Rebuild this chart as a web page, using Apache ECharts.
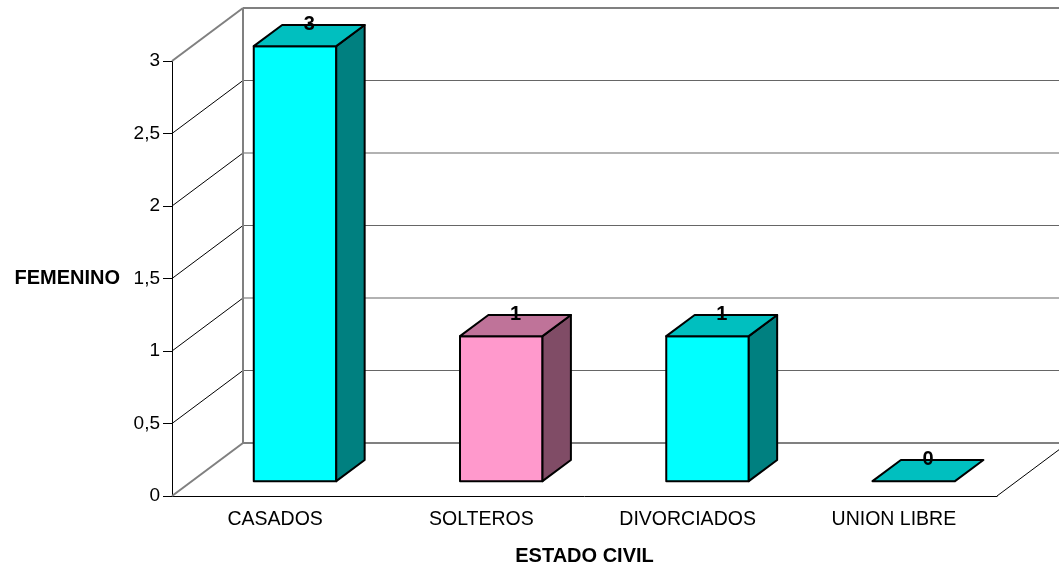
<!DOCTYPE html>
<html>
<head>
<meta charset="utf-8">
<script src="https://cdn.jsdelivr.net/npm/echarts@6/dist/echarts.min.js"></script>
<style>
  html, body { margin: 0; padding: 0; background: #fff; }
  #chart { width: 1059px; height: 571px; }
</style>
</head>
<body>
<div id="chart"></div>
<script>
const categories = ['CASADOS', 'SOLTEROS', 'DIVORCIADOS', 'UNION LIBRE'];
const femenino = [3, 1, 1, 0];
const yTicks = [0, 0.5, 1, 1.5, 2, 2.5, 3];
const yTickLabels = ['0', '0,5', '1', '1,5', '2', '2,5', '3'];

// 3d look: depth offset of the back wall, bar depth range, colours
const DX = 71, DY = -53;
const D1 = 0.28, D2 = 0.68;
const BAR_W = 0.4;
const FONT = "'Liberation Sans', Arial, sans-serif";
const faces = [
  { front: '#00FFFF', top: '#00BFBF', side: '#008080' },
  { front: '#FF99CC', top: '#BF7399', side: '#804C66' },
  { front: '#00FFFF', top: '#00BFBF', side: '#008080' },
  { front: '#00FFFF', top: '#00BFBF', side: '#008080' }
];

const chart = echarts.init(document.getElementById('chart'));

function shift(p, d) {
  return [p[0] + d * DX, p[1] + d * DY];
}

function renderWalls(params, api) {
  const cs = params.coordSys;
  const x0 = cs.x, x1 = cs.x + cs.width;
  const kids = [];
  const gray = { stroke: '#808080', lineWidth: 2 };
  yTicks.forEach((t, i) => {
    const y = api.coord([0, t])[1];
    const edge = i === 0 || i === yTicks.length - 1;
    kids.push({
      type: 'line',
      shape: { x1: x0, y1: y, x2: x0 + DX, y2: y + DY },
      style: edge ? gray : { stroke: '#000', lineWidth: 1 }
    });
    kids.push({
      type: 'line',
      shape: { x1: x0 + DX, y1: y + DY, x2: x1 + DX, y2: y + DY },
      style: edge ? gray : { stroke: '#666', lineWidth: 1.2 }
    });
  });
  const yb = api.coord([0, yTicks[0]])[1];
  const yt = api.coord([0, yTicks[yTicks.length - 1]])[1];
  kids.push({
    type: 'line',
    shape: { x1: x0 + DX, y1: yb + DY, x2: x0 + DX, y2: yt + DY },
    style: gray
  });
  kids.push({
    type: 'line',
    shape: { x1: x1, y1: yb, x2: x1 + DX, y2: yb + DY },
    style: { stroke: '#000', lineWidth: 1 }
  });
  return { type: 'group', children: kids };
}

function renderBar(params, api) {
  const i = api.value(0);
  const v = api.value(1);
  const base = api.coord([i, 0]);
  const topY = api.coord([i, v])[1];
  const half = api.size([1, 0])[0] * BAR_W / 2;
  const c = faces[i];
  const fl = shift([base[0] - half, topY], D1);
  const fr = shift([base[0] + half, topY], D1);
  const bl = shift([base[0] - half, topY], D2);
  const br = shift([base[0] + half, topY], D2);
  const frb = shift([base[0] + half, base[1]], D1);
  const flb = shift([base[0] - half, base[1]], D1);
  const brb = shift([base[0] + half, base[1]], D2);
  const edge = { stroke: '#000', lineWidth: 2, lineJoin: 'round' };
  const kids = [];
  if (v > 0) {
    kids.push({
      type: 'polygon',
      shape: { points: [fl, fr, frb, flb] },
      style: Object.assign({ fill: c.front }, edge)
    });
    kids.push({
      type: 'polygon',
      shape: { points: [fr, br, brb, frb] },
      style: Object.assign({ fill: c.side }, edge)
    });
  }
  kids.push({
    type: 'polygon',
    shape: { points: [fl, bl, br, fr] },
    style: Object.assign({ fill: c.top }, edge)
  });
  kids.push({
    type: 'text',
    z2: 10,
    style: {
      x: base[0] + (D1 + D2) / 2 * DX,
      y: topY + D2 * DY,
      text: String(v),
      fill: '#000',
      font: 'bold 20px ' + FONT,
      align: 'center',
      verticalAlign: 'middle'
    }
  });
  return { type: 'group', children: kids };
}

chart.setOption({
  backgroundColor: '#fff',
  animation: false,
  grid: { left: 172, right: 62, top: 61, bottom: 74, containLabel: false },
  xAxis: {
    type: 'category',
    data: categories,
    name: 'ESTADO CIVIL',
    nameLocation: 'middle',
    nameGap: 50,
    nameTextStyle: { fontFamily: FONT, fontSize: 20, fontWeight: 'bold', color: '#000' },
    axisLine: { lineStyle: { color: '#000', width: 1 } },
    axisTick: { length: 9, lineStyle: { color: '#000' } },
    axisLabel: { margin: 14, fontFamily: FONT, fontSize: 19.5, color: '#000' },
    splitLine: { show: false }
  },
  yAxis: {
    type: 'value',
    min: 0,
    max: 3,
    interval: 0.5,
    name: 'FEMENINO',
    nameLocation: 'middle',
    nameRotate: 0,
    nameGap: 52,
    nameTextStyle: { fontFamily: FONT, fontSize: 20, fontWeight: 'bold', color: '#000' },
    axisLine: { show: true, lineStyle: { color: '#000', width: 1 } },
    axisTick: { show: true, length: 9, lineStyle: { color: '#000' } },
    axisLabel: {
      margin: 12,
      fontFamily: FONT,
      fontSize: 19,
      color: '#000',
      formatter: (val) => {
        const k = yTicks.indexOf(val);
        return k >= 0 ? yTickLabels[k] : '';
      }
    },
    splitLine: { show: false }
  },
  series: [
    {
      type: 'custom',
      silent: true,
      z: 1,
      renderItem: renderWalls,
      data: [[0, 0]]
    },
    {
      type: 'custom',
      z: 3,
      renderItem: renderBar,
      data: femenino.map((v, i) => [i, v])
    }
  ]
});
</script>
</body>
</html>
